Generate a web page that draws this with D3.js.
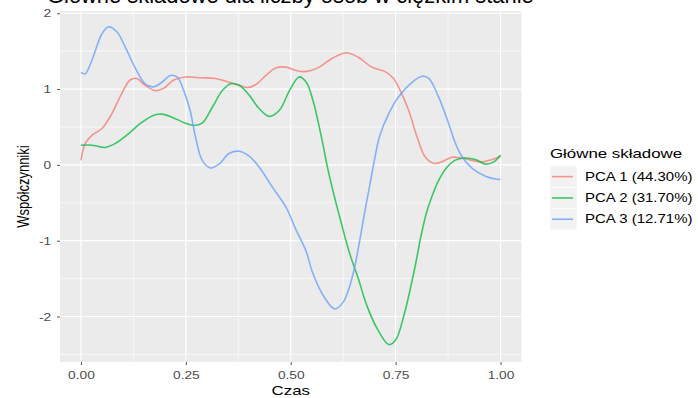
<!DOCTYPE html>
<html>
<head>
<meta charset="utf-8">
<script src="https://cdn.jsdelivr.net/npm/d3@7"></script>
<style>
  html, body { margin: 0; padding: 0; background: #fff; }
  svg { display: block; font-family: "Liberation Sans", Arial, sans-serif; }
</style>
</head>
<body>
<svg id="chart" width="698" height="398"></svg>
<script>
// ---- data ----
const titleText = "Główne składowe dla liczby osób w ciężkim stanie";
const xTitle = "Czas";
const yTitle = "Współczynniki";
const legendTitle = "Główne składowe";
const seriesNames = ["PCA 1 (44.30%)", "PCA 2 (31.70%)", "PCA 3 (12.71%)"];
const xTicks = [0, 0.25, 0.5, 0.75, 1];
const xTickLabels = ["0.00", "0.25", "0.50", "0.75", "1.00"];
const yTicks = [-2, -1, 0, 1, 2];
const yTickLabels = ["-2", "-1", "0", "1", "2"];

const pca1Time = [0,0.01,0.026,0.05,0.073,0.097,0.117,0.133,0.153,0.177,0.197,0.221,0.249,0.281,0.321,0.353,0.377,0.397,0.417,0.441,0.465,0.489,0.51,0.533,0.565,0.597,0.633,0.661,0.693,0.725,0.745,0.761,0.781,0.801,0.821,0.841,0.86,0.884,0.908,0.932,0.956,0.98,1.0];
const pca1Vals = [0.06,0.28,0.39,0.48,0.67,0.94,1.12,1.14,1.05,0.98,1.01,1.12,1.16,1.15,1.14,1.09,1.05,1.02,1.06,1.18,1.28,1.29,1.25,1.23,1.28,1.40,1.48,1.42,1.29,1.23,1.14,0.98,0.72,0.37,0.10,0.02,0.04,0.10,0.09,0.06,0.04,0.07,0.11];

const pca2Time = [0,0.026,0.057,0.081,0.113,0.145,0.177,0.193,0.217,0.249,0.269,0.289,0.313,0.337,0.357,0.377,0.401,0.425,0.449,0.473,0.497,0.52,0.537,0.553,0.573,0.589,0.6,0.621,0.641,0.661,0.681,0.706,0.734,0.75,0.77,0.796,0.81,0.823,0.835,0.851,0.871,0.891,0.915,0.94,0.964,0.984,1.0];
const pca2Vals = [0.26,0.26,0.23,0.28,0.41,0.56,0.66,0.67,0.63,0.55,0.52,0.55,0.76,0.98,1.07,1.05,0.92,0.74,0.64,0.72,0.98,1.16,1.09,0.85,0.37,-0.07,-0.33,-0.78,-1.18,-1.50,-1.85,-2.16,-2.37,-2.31,-1.98,-1.35,-0.95,-0.64,-0.44,-0.22,-0.04,0.06,0.09,0.07,0.01,0.04,0.13];

const pca3Time = [0,0.01,0.026,0.05,0.065,0.085,0.105,0.13,0.153,0.173,0.193,0.213,0.229,0.245,0.26,0.273,0.289,0.309,0.329,0.353,0.377,0.4,0.425,0.457,0.489,0.512,0.536,0.552,0.577,0.605,0.625,0.641,0.653,0.665,0.677,0.69,0.70,0.712,0.733,0.757,0.789,0.813,0.829,0.852,0.876,0.89,0.907,0.931,0.964,0.992,1.0];
const pca3Vals = [1.22,1.20,1.38,1.73,1.82,1.76,1.56,1.27,1.07,1.03,1.09,1.18,1.16,0.98,0.72,0.37,0.06,-0.04,0.01,0.15,0.18,0.12,-0.03,-0.30,-0.56,-0.85,-1.13,-1.42,-1.72,-1.90,-1.81,-1.59,-1.33,-0.98,-0.60,-0.22,0.08,0.38,0.67,0.90,1.09,1.17,1.14,0.90,0.55,0.32,0.12,-0.04,-0.15,-0.19,-0.19];

const seriesColors = ["#F8766D", "#00BA38", "#619CFF"];

// ---- layout ----
const svg = d3.select("#chart");
const panel = { left: 60, right: 521.5, top: 11, bottom: 362 };
const sx = 1.25; // horizontal text stretch seen in the reference

const x = d3.scaleLinear().domain([-0.05, 1.05]).range([panel.left, panel.right]);
const y = d3.scaleLinear().domain([-2.6, 2.03]).range([panel.bottom, panel.top]);

svg.append("rect")
  .attr("x", panel.left).attr("y", panel.top)
  .attr("width", panel.right - panel.left).attr("height", panel.bottom - panel.top)
  .attr("fill", "#ebebeb");

const xMinor = [0.125, 0.375, 0.625, 0.875];
const yMinor = [-2.5, -1.5, -0.5, 0.5, 1.5];
const grid = svg.append("g");
grid.selectAll(".xm").data(xMinor).join("line")
  .attr("x1", d => x(d)).attr("x2", d => x(d))
  .attr("y1", panel.top).attr("y2", panel.bottom)
  .attr("stroke", "#fff").attr("stroke-width", 0.6);
grid.selectAll(".ym").data(yMinor).join("line")
  .attr("y1", d => y(d)).attr("y2", d => y(d))
  .attr("x1", panel.left).attr("x2", panel.right)
  .attr("stroke", "#fff").attr("stroke-width", 0.6);
grid.selectAll(".xM").data(xTicks).join("line")
  .attr("x1", d => x(d)).attr("x2", d => x(d))
  .attr("y1", panel.top).attr("y2", panel.bottom)
  .attr("stroke", "#fff").attr("stroke-width", 1.2);
grid.selectAll(".yM").data(yTicks).join("line")
  .attr("y1", d => y(d)).attr("y2", d => y(d))
  .attr("x1", panel.left).attr("x2", panel.right)
  .attr("stroke", "#fff").attr("stroke-width", 1.2);

// axes
const xAxis = d3.axisBottom(x).tickValues(xTicks)
  .tickFormat((d, i) => xTickLabels[i]).tickSize(3).tickPadding(6);
const gx = svg.append("g").attr("transform", `translate(0,${panel.bottom})`).call(xAxis);
gx.select(".domain").remove();
gx.selectAll(".tick line").attr("stroke", "#555").attr("stroke-width", 1);
gx.selectAll(".tick text").attr("fill", "#4d4d4d").attr("font-size", 11)
  .attr("font-family", "Liberation Sans, Arial, sans-serif")
  .attr("transform", `scale(${sx},1)`);

const yAxis = d3.axisLeft(y).tickValues(yTicks)
  .tickFormat((d, i) => yTickLabels[i]).tickSize(3).tickPadding(4);
const gy = svg.append("g").attr("transform", `translate(${panel.left},0)`).call(yAxis);
gy.select(".domain").remove();
gy.selectAll(".tick line").attr("stroke", "#555").attr("stroke-width", 1);
gy.selectAll(".tick text").attr("fill", "#4d4d4d").attr("font-size", 11)
  .attr("font-family", "Liberation Sans, Arial, sans-serif")
  .attr("transform", `scale(${sx},1)`);

// lines
const series = [
  { name: seriesNames[0], t: pca1Time, v: pca1Vals, color: seriesColors[0] },
  { name: seriesNames[1], t: pca2Time, v: pca2Vals, color: seriesColors[1] },
  { name: seriesNames[2], t: pca3Time, v: pca3Vals, color: seriesColors[2] }
];
const line = d3.line()
  .x(d => x(d[0])).y(d => y(d[1]))
  .curve(d3.curveCatmullRom.alpha(0.5));
svg.append("g").selectAll("path").data(series).join("path")
  .attr("d", s => line(s.t.map((t, i) => [t, s.v[i]])))
  .attr("fill", "none")
  .attr("stroke", s => s.color)
  .attr("stroke-opacity", 0.75)
  .attr("stroke-width", 1.6);

// titles
const title = svg.append("text")
  .attr("x", 47).attr("y", 3)
  .attr("font-size", 18).attr("fill", "#000")
  .text(titleText);
const tw = title.node().getComputedTextLength();
title.attr("font-size", 18 * 487 / tw);

svg.append("text")
  .attr("transform", `translate(${(panel.left + panel.right) / 2},395) scale(${sx},1)`)
  .attr("text-anchor", "middle").attr("font-size", 13.5).attr("fill", "#000")
  .text(xTitle);

svg.append("text")
  .attr("transform", `translate(29,${(panel.top + panel.bottom) / 2}) scale(${sx},1) rotate(-90)`)
  .attr("text-anchor", "middle").attr("font-size", 13).attr("fill", "#000")
  .text(yTitle);

// legend
const lg = svg.append("g");
lg.append("text").attr("transform", `translate(550,157.5) scale(${sx},1)`)
  .attr("font-size", 13.5).attr("fill", "#000").text(legendTitle);
const keyTop = 166, keyH = 21.3, keyW = 27, keyX = 550;
const items = lg.selectAll(".item").data(series).join("g")
  .attr("transform", (d, i) => `translate(${keyX},${keyTop + i * keyH})`);
items.append("rect").attr("width", keyW).attr("height", keyH)
  .attr("fill", "#f2f2f2").attr("stroke", "#fff").attr("stroke-width", 0.5);
items.append("line").attr("x1", 2).attr("x2", keyW - 4)
  .attr("y1", keyH / 2).attr("y2", keyH / 2)
  .attr("stroke", d => d.color).attr("stroke-opacity", 0.75).attr("stroke-width", 1.6);
items.append("text")
  .attr("transform", `translate(35,${keyH / 2}) scale(${sx},1)`)
  .attr("dy", "0.35em")
  .attr("font-size", 12).attr("fill", "#000").text(d => d.name);
</script>
</body>
</html>
